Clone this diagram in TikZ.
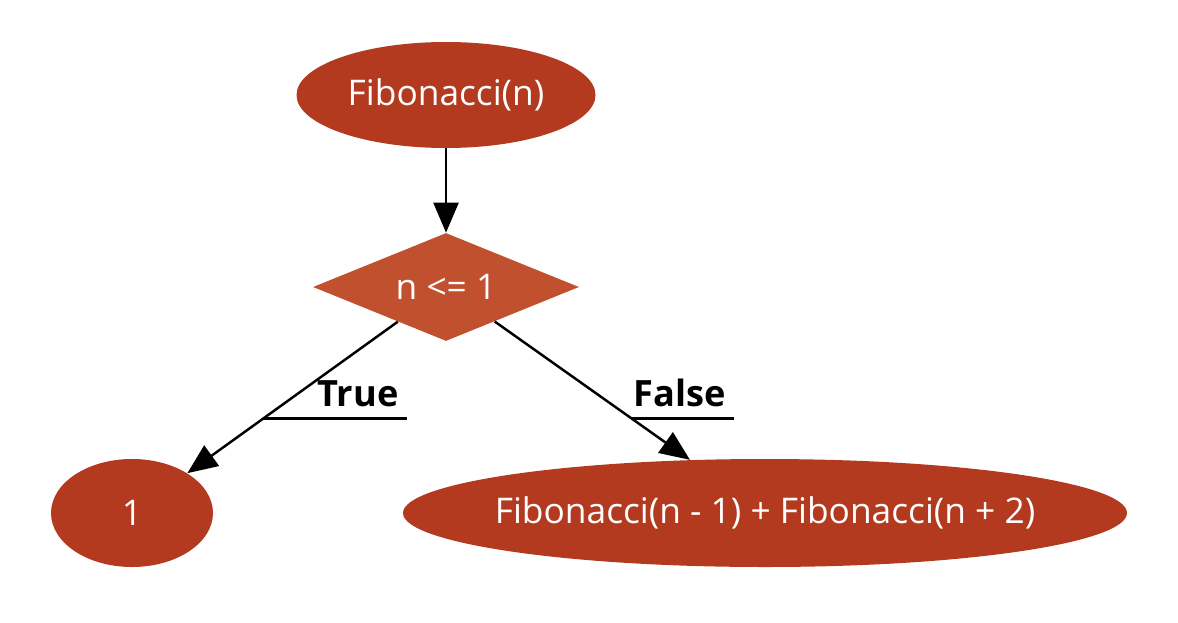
\documentclass[tikz,border=0pt]{standalone}
\usepackage{fontspec}
\setmainfont{Open Sans}
\definecolor{ovalred}{RGB}{179, 58, 31}
\definecolor{testred}{RGB}{193, 80, 46}
\usepackage{tikz}
\usetikzlibrary{shapes.geometric, arrows.meta, positioning}

\begin{document}
\begin{tikzpicture}[
  callbox/.style={ellipse, fill=ovalred, text=white, inner sep=0pt, minimum height=2.16cm, font=\fontsize{20.1pt}{24pt}\selectfont},
  testbox/.style={diamond, aspect=2.46, fill=testred, text=white, inner sep=0pt, minimum width=5.32cm, minimum height=2.16cm, font=\fontsize{20.1pt}{24pt}\selectfont},
  flow/.style={-{Triangle[length=0.6cm, width=0.5cm]}, line width=1.4pt},
  branchlabel/.style={font=\fontsize{20.6pt}{24pt}\selectfont\bfseries, inner xsep=0.17cm, anchor=base}
]
  \useasboundingbox (0, 0) rectangle (23.56, -12.44);

  \node[callbox, minimum width=5.98cm, minimum height=2.12cm] (fib) at (8.92, -1.90) {Fibonacci(n)};
  \node[testbox] (test) at (8.92, -5.74) {n <= 1};
  \node[callbox, minimum width=3.24cm] (base) at (2.64, -10.26) {1};
  \node[callbox, minimum width=14.48cm] (rec) at (15.30, -10.26) {\makebox[0pt]{Fibonacci(n - 1) + Fibonacci(n + 2)}};

  \draw[flow] (fib) -- (test);
  \draw[flow] (test) -- coordinate[pos=0.64] (trueat) (base);
  \draw[flow] (test) -- coordinate[pos=0.70] (falseat) (rec);

  \node[branchlabel] (truelbl) at (7.16, -8.12) {True};
  \node[branchlabel] (falselbl) at (13.59, -8.12) {False};
  \draw[line width=1.4pt] (trueat) -- (trueat -| truelbl.east);
  \draw[line width=1.4pt] (falseat) -- (falseat -| falselbl.east);
\end{tikzpicture}
\end{document}
